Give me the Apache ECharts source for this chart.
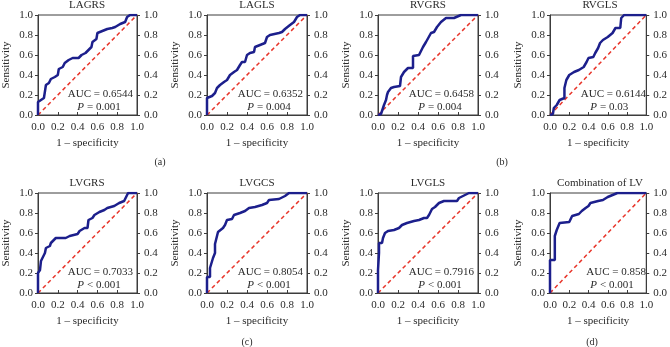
<!DOCTYPE html>
<html>
<head>
  <meta charset="utf-8">
</head>
<body style="margin: 0; width: 670px; height: 347px; background: #fff;">
  <div id="container" style="width: 670px; height: 347px;"></div>
  <script src="https://cdn.jsdelivr.net/npm/echarts@6/dist/echarts.min.js"></script>
  <script>
    // panel titles and stats
    var titles = ['LAGRS', 'LAGLS', 'RVGRS', 'RVGLS', 'LVGRS', 'LVGCS', 'LVGLS', 'Combination of LV'];
    var aucs = ['0.6544', '0.6352', '0.6458', '0.6144', '0.7033', '0.8054', '0.7916', '0.858'];
    var pvals = ['= 0.001', '= 0.004', '= 0.004', '= 0.03', '< 0.001', '< 0.001', '< 0.001', '< 0.001'];
    var subLabels = ['(a)', '(b)', '(c)', '(d)'];

    // ROC curves: [1 - specificity, sensitivity]
    var rocLAGRS = [[0,0],[0,0.13],[0.02,0.15],[0.06,0.17],[0.08,0.19],[0.08,0.30],[0.11,0.32],[0.13,0.36],[0.17,0.38],[0.20,0.40],[0.21,0.46],[0.25,0.48],[0.27,0.52],[0.31,0.55],[0.35,0.57],[0.41,0.57],[0.44,0.60],[0.48,0.62],[0.51,0.65],[0.54,0.68],[0.55,0.73],[0.59,0.76],[0.60,0.82],[0.65,0.84],[0.70,0.86],[0.75,0.87],[0.78,0.88],[0.83,0.91],[0.88,0.93],[0.90,0.98],[0.93,1.0],[1,1]];
    var rocLAGLS = [[0,0],[0,0.17],[0.02,0.18],[0.05,0.19],[0.08,0.22],[0.10,0.27],[0.13,0.30],[0.17,0.33],[0.20,0.35],[0.23,0.40],[0.27,0.43],[0.30,0.45],[0.33,0.50],[0.35,0.53],[0.38,0.53],[0.40,0.60],[0.43,0.62],[0.47,0.63],[0.48,0.68],[0.53,0.70],[0.58,0.72],[0.60,0.78],[0.63,0.80],[0.72,0.82],[0.75,0.83],[0.78,0.86],[0.83,0.90],[0.87,0.93],[0.90,0.98],[0.93,1.0],[1,1]];
    var rocRVGRS = [[0,0],[0.03,0.01],[0.05,0.02],[0.06,0.10],[0.08,0.15],[0.09,0.20],[0.10,0.23],[0.13,0.27],[0.16,0.28],[0.22,0.29],[0.23,0.38],[0.26,0.43],[0.30,0.47],[0.35,0.47],[0.35,0.59],[0.41,0.60],[0.45,0.68],[0.48,0.73],[0.53,0.82],[0.56,0.83],[0.59,0.88],[0.63,0.93],[0.68,0.97],[0.76,0.97],[0.83,1.0],[1,1]];
    var rocRVGLS = [[0,0],[0.03,0.01],[0.04,0.07],[0.07,0.10],[0.10,0.15],[0.15,0.17],[0.15,0.27],[0.17,0.35],[0.20,0.40],[0.25,0.43],[0.30,0.45],[0.35,0.48],[0.38,0.53],[0.40,0.57],[0.45,0.58],[0.47,0.62],[0.50,0.67],[0.52,0.72],[0.55,0.75],[0.60,0.78],[0.65,0.82],[0.68,0.87],[0.73,0.87],[0.74,0.97],[0.77,1.0],[1,1]];
    var rocLVGRS = [[0,0],[0,0.20],[0.02,0.23],[0.03,0.32],[0.05,0.33],[0.07,0.40],[0.08,0.45],[0.12,0.47],[0.13,0.50],[0.15,0.52],[0.18,0.55],[0.28,0.55],[0.32,0.57],[0.33,0.58],[0.40,0.59],[0.42,0.62],[0.47,0.65],[0.50,0.65],[0.51,0.73],[0.55,0.75],[0.57,0.78],[0.62,0.81],[0.67,0.83],[0.70,0.85],[0.77,0.87],[0.82,0.90],[0.87,0.92],[0.89,0.93],[0.91,1.0],[1,1]];
    var rocLVGCS = [[0,0],[0,0.16],[0.03,0.16],[0.03,0.25],[0.05,0.27],[0.06,0.35],[0.08,0.40],[0.08,0.49],[0.10,0.50],[0.11,0.61],[0.13,0.62],[0.16,0.65],[0.18,0.68],[0.20,0.73],[0.25,0.74],[0.27,0.78],[0.33,0.80],[0.38,0.82],[0.42,0.85],[0.48,0.86],[0.55,0.88],[0.60,0.90],[0.62,0.93],[0.72,0.94],[0.78,0.97],[0.82,1.0],[1,1]];
    var rocLVGLS = [[0,0],[0,0.23],[0.01,0.40],[0.01,0.50],[0.04,0.50],[0.05,0.55],[0.07,0.60],[0.10,0.62],[0.16,0.63],[0.21,0.65],[0.24,0.68],[0.29,0.70],[0.36,0.72],[0.41,0.73],[0.46,0.75],[0.49,0.75],[0.51,0.78],[0.54,0.84],[0.57,0.86],[0.61,0.90],[0.66,0.92],[0.79,0.92],[0.81,0.95],[0.87,0.98],[0.91,1.0],[1,1]];
    var rocComb = [[0,0],[0,0.33],[0.05,0.33],[0.05,0.57],[0.07,0.63],[0.08,0.65],[0.10,0.70],[0.12,0.71],[0.20,0.71],[0.22,0.72],[0.23,0.77],[0.25,0.79],[0.30,0.79],[0.33,0.82],[0.37,0.85],[0.40,0.87],[0.42,0.90],[0.43,0.92],[0.50,0.92],[0.55,0.93],[0.60,0.96],[0.65,0.98],[0.70,1.0],[1,1]];
    var curves = [rocLAGRS, rocLAGLS, rocRVGRS, rocRVGLS, rocLVGRS, rocLVGCS, rocLVGLS, rocComb];
    var diag = [[0, 0], [1, 1]];

    // layout (pixels)
    var colLeft = [37, 207, 378, 550];
    var rowTop = [15, 193];
    var size = 100;
    var subPos = [[160, 163], [502, 163], [247, 343], [592, 343]];

    var font = 'Liberation Serif';
    var axisColor = '#3c3c3c';
    var textColor = '#2a2a2a';
    var rocColor = '#1c1f8c';
    var diagColor = '#e8352a';

    var chart = echarts.init(document.getElementById('container'), null, { renderer: 'canvas' });

    function fmt(v) { return Number(v).toFixed(1); }
    function axisBase(i) {
      return {
        gridIndex: i, type: 'value', min: 0, max: 1, interval: 0.2,
        axisLine: { show: true, onZero: false, lineStyle: { color: axisColor, width: 1 } },
        axisTick: { show: true, length: 3, lineStyle: { color: axisColor } },
        axisLabel: { fontFamily: font, fontSize: 11, color: textColor, formatter: fmt },
        splitLine: { show: false }
      };
    }

    function buildOption() {
      var grids = [], xAxes = [], yAxes = [], seriesList = [], titleList = [], graphics = [];
      for (var i = 0; i < 8; i++) {
        var gx = colLeft[i % 4], gy = rowTop[Math.floor(i / 4)];
        grids.push({ left: gx, top: gy, width: size, height: size, show: true,
          borderColor: axisColor, borderWidth: 1 });

        var xa = axisBase(i);
        xa.name = '1 \u2013 specificity';
        xa.nameLocation = 'middle';
        xa.nameGap = 23;
        xa.nameTextStyle = { fontFamily: font, fontSize: 11, color: textColor };
        xa.axisTick.inside = true;
        xa.axisLabel.margin = 7;
        xAxes.push(xa);

        var yl = axisBase(i);
        yl.position = 'left';
        yl.name = 'Sensitivity';
        yl.nameLocation = 'middle';
        yl.nameGap = 26;
        yl.nameTextStyle = { fontFamily: font, fontSize: 11, color: textColor };
        yl.axisLabel.margin = 5;
        yAxes.push(yl);

        var yr = axisBase(i);
        yr.position = 'right';
        yr.axisLabel.margin = 7;
        yAxes.push(yr);

        seriesList.push({
          type: 'line', xAxisIndex: i, yAxisIndex: i * 2,
          data: diag.map(function (p) { return p.slice(); }), symbol: 'none', color: diagColor,
          itemStyle: { color: diagColor },
          lineStyle: { color: diagColor, width: 1.5, type: [4, 3] }, z: 2, silent: true
        });
        seriesList.push({
          type: 'line', xAxisIndex: i, yAxisIndex: i * 2,
          data: curves[i].map(function (p) { return p.slice(); }), symbol: 'none', color: rocColor,
          itemStyle: { color: rocColor },
          lineStyle: { color: rocColor, width: 2.5 }, z: 3, silent: true
        });
        titleList.push({
          text: titles[i], left: gx + size / 2, top: gy - 15, textAlign: 'center', padding: 0,
          textStyle: { fontFamily: font, fontSize: 11, fontWeight: 'normal', color: textColor }
        });
        graphics.push({
          type: 'text', x: gx + size - 4, y: gy + size - 26,
          style: { text: 'AUC = ' + aucs[i], font: '11px "Liberation Serif"', fill: textColor, align: 'right' }
        });
        graphics.push({
          type: 'text', x: gx + 47, y: gy + size - 13,
          style: { text: 'P', font: 'italic 11px "Liberation Serif"', fill: textColor, align: 'right' }
        });
        graphics.push({
          type: 'text', x: gx + 50, y: gy + size - 13,
          style: { text: pvals[i], font: '11px "Liberation Serif"', fill: textColor, align: 'left' }
        });
      }
      for (var k = 0; k < 4; k++) {
        graphics.push({
          type: 'text', x: subPos[k][0], y: subPos[k][1] - 6,
          style: { text: subLabels[k], font: '10px "Liberation Serif"', fill: textColor, align: 'center' }
        });
      }
      return {
        animation: false,
        title: titleList,
        grid: grids,
        xAxis: xAxes,
        yAxis: yAxes,
        series: seriesList,
        graphic: graphics
      };
    }

    chart.setOption(buildOption());
  </script>
</body>
</html>
